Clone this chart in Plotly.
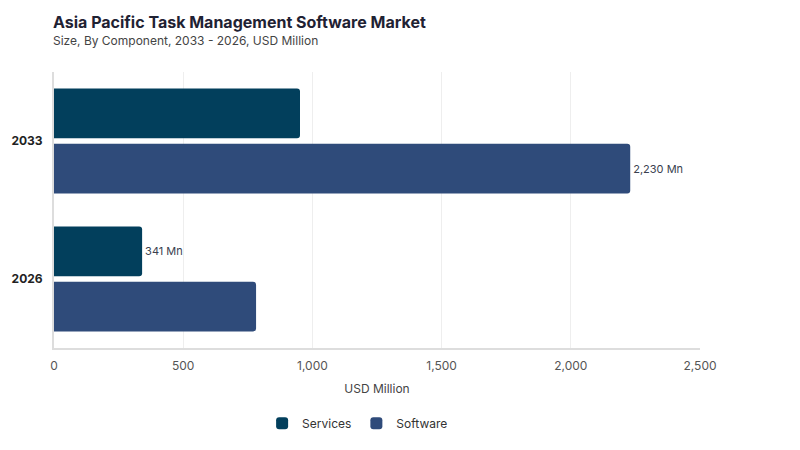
import plotly.graph_objects as go

years = ["2033", "2026"]
services = [952, 341]
software = [2230, 782]
services_labels = ["", "341 Mn"]
software_labels = ["2,230 Mn", ""]
x_ticks = [0, 500, 1000, 1500, 2000, 2500]
x_tick_text = ["0", "500", "1,000", "1,500", "2,000", "2,500"]

FONT = "Inter, 'DejaVu Sans', sans-serif"

fig = go.Figure()
fig.add_trace(go.Bar(
    y=years, x=services, name="Services", orientation="h",
    marker=dict(color="#023F5C", line=dict(width=0)),
    text=services_labels, textposition="outside",
    textfont=dict(size=11, color="#3a3f4f", family=FONT), cliponaxis=False,
))
fig.add_trace(go.Bar(
    y=years, x=software, name="Software", orientation="h",
    marker=dict(color="#2F4B7A", line=dict(width=0)),
    text=software_labels, textposition="outside",
    textfont=dict(size=11, color="#3a3f4f", family=FONT), cliponaxis=False,
))

fig.add_annotation(
    text="<b>Asia Pacific Task Management Software Market</b>",
    xref="paper", yref="paper", x=0, y=1,
    xanchor="left", yanchor="top", showarrow=False,
    font=dict(size=16, color="#1f2233", family=FONT),
    yshift=62, xshift=-3,
)
fig.add_annotation(
    text="Size, By Component, 2033 - 2026, USD Million",
    xref="paper", yref="paper", x=0, y=1,
    xanchor="left", yanchor="top", showarrow=False,
    font=dict(size=12, color="#444", family=FONT),
    yshift=41, xshift=-3,
)

fig.update_layout(
    width=800, height=450,
    margin=dict(l=54, r=100, t=72, b=102, autoexpand=False),
    paper_bgcolor="white", plot_bgcolor="white",
    barmode="group", bargap=0.2, bargroupgap=0.1,
    barcornerradius=3,
    font=dict(family=FONT, color="#333"),
    xaxis=dict(
        range=[0, 2500], tickvals=x_ticks, ticktext=x_tick_text,
        showgrid=True, gridcolor="#eeeeee", gridwidth=1,
        showline=True, linecolor="#dddddd", linewidth=2,
        zeroline=False, ticks="", ticklabelstandoff=6,
        tickfont=dict(size=12, color="#555"),
        title=dict(text="USD Million", font=dict(size=12, color="#444"), standoff=12),
        automargin=False,
    ),
    yaxis=dict(
        categoryorder="array", categoryarray=years, autorange="reversed",
        showline=True, linecolor="#dddddd", linewidth=2,
        showgrid=False, ticks="", ticklabelstandoff=7,
        tickfont=dict(size=12, color="#222", family=FONT, weight="bold"),
        automargin=False,
    ),
    legend=dict(
        orientation="h", x=0.47, xanchor="center", y=-0.22, yanchor="top",
        font=dict(size=12, color="#333"), itemwidth=30,
    ),
)

fig.write_html("out.html")
